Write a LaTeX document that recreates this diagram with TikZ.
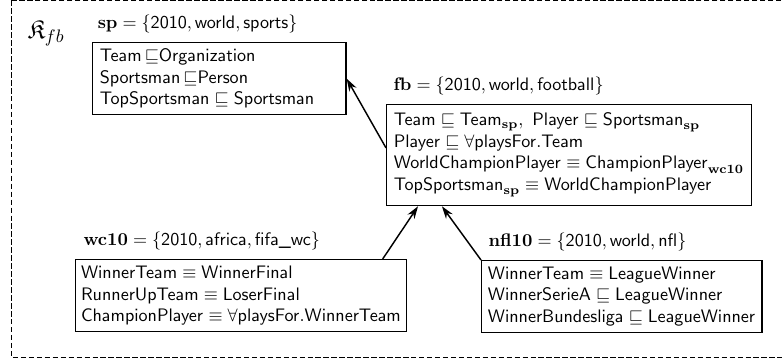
\documentclass[tikz,border=0pt]{standalone}
\usepackage{amssymb}
\usetikzlibrary{positioning,arrows.meta}

\newcommand{\cn}[1]{\mathsf{#1}}

\begin{document}
\begin{tikzpicture}[
        x=0.5525pt, y=-0.5525pt,
        box/.style={draw, line width=0.7pt, anchor=north west, align=left, inner xsep=4pt, font=\sffamily},
        lbl/.style={anchor=south west, inner sep=0pt},
        >={Stealth[length=7pt,width=4.5pt]}
    ]
        \useasboundingbox (0,0) rectangle (782,363);
        % frame, cut off at the right
        \begin{scope}
            \clip (0,0) rectangle (782,363);
            \draw[dashed, dash pattern=on 3pt off 1.4pt, line width=0.5pt] (11,0.5) rectangle (820,357);
        \end{scope}
        \node[font=\Large] (kb) at (46,33) {$\mathfrak{K}_{fb}$};
        
        % Contexts
        \node[box, text width=132pt, minimum height=39.8pt] (sp) at (92,42)
            {$\cn{Team}\,{\sqsubseteq}\cn{Organization}$\\
             $\cn{Sportsman}\,{\sqsubseteq}\cn{Person}$\\
             $\cn{TopSportsman} \sqsubseteq \cn{Sportsman}$};
        \node[box, text width=193.5pt, minimum height=55.8pt] (fb) at (386,104)
            {$\cn{Team} \sqsubseteq \cn{Team}_{\mathbf{sp}},\ \cn{Player} \sqsubseteq \cn{Sportsman}_{\mathbf{sp}}$\\
             $\cn{Player} \sqsubseteq \forall\cn{playsFor.Team}$\\
             $\cn{WorldChampionPlayer} \equiv \cn{ChampionPlayer}_{\mathbf{wc10}}$\\
             $\cn{TopSportsman}_{\mathbf{sp}} \equiv \cn{WorldChampionPlayer}$};
        \node[box, inner xsep=3pt, minimum height=39.8pt] (wc) at (75,259)
            {$\cn{WinnerTeam} \equiv \cn{WinnerFinal}$\\
             $\cn{RunnerUpTeam} \equiv \cn{LoserFinal}$\\
             $\cn{ChampionPlayer} \equiv \forall\cn{playsFor.WinnerTeam}$};
        \node[box, inner xsep=3.5pt, minimum height=39.2pt] (nfl) at (481,260)
            {$\cn{WinnerTeam} \equiv \cn{LeagueWinner}$\\
             $\cn{WinnerSerieA} \sqsubseteq \cn{LeagueWinner}$\\
             $\cn{WinnerBundesliga} \sqsubseteq \cn{LeagueWinner}$};
        
        % Context names
        \node[lbl] (sp-l) at ([xshift=3pt,yshift=5pt]sp.north west) {$\mathbf{sp} = \{\cn{2010}, \cn{world}, \cn{sports}\}$};
        \node[lbl] (fb-l) at ([xshift=4pt,yshift=5pt]fb.north west) {$\mathbf{fb} = \{\cn{2010}, \cn{world}, \cn{football}\}$};
        \node[lbl] (wc-l) at ([xshift=4.5pt,yshift=5pt]wc.north west) {$\mathbf{wc10} = \{\cn{2010}, \cn{africa}, \textsf{fifa\_wc}\}$};
        \node[lbl] (nfl-l) at ([xshift=4pt,yshift=5pt]nfl.north west) {$\mathbf{nfl10} = \{\cn{2010}, \cn{world}, \cn{nfl}\}$};
        
        % Arrows
        \draw[->, line width=0.8pt] ([yshift=4pt]fb.west) -- (sp.east);
        \draw[->, line width=0.8pt] ([xshift=170pt]wc.north west) -- ([xshift=17.7pt]fb.south west);
        \draw[->, line width=0.8pt] (nfl.north west) -- ([xshift=30.9pt]fb.south west);
    \end{tikzpicture}
\end{document}
